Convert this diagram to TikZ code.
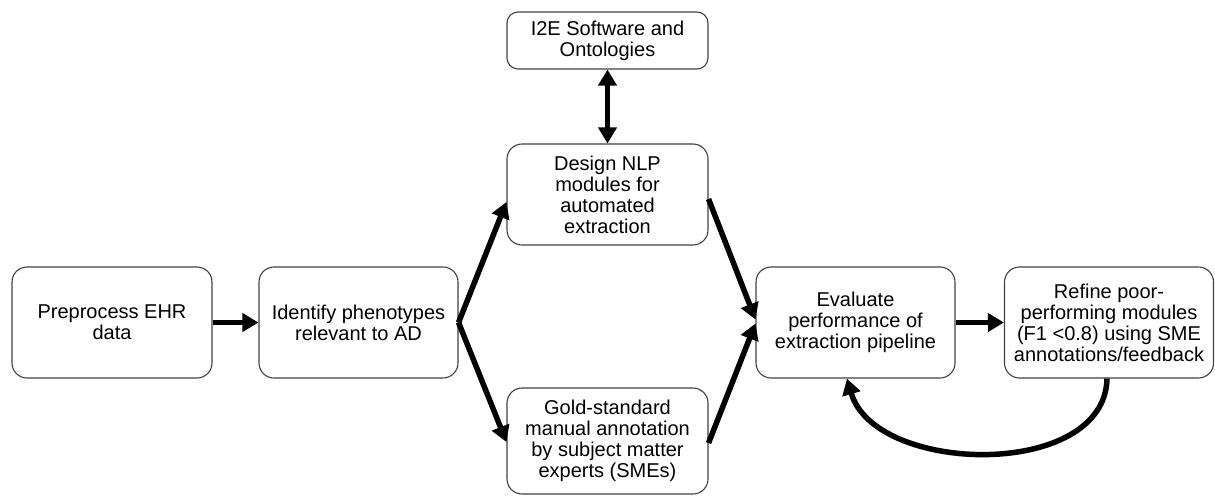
\documentclass[tikz,border=0pt]{standalone}
\usepackage{fontspec}
\setmainfont{Liberation Sans}
\usetikzlibrary{arrows.meta}
\begin{document}
\begin{tikzpicture}[x=1pt,y=-1pt,
  box/.style={draw=black!75, line width=1.1pt, rounded corners=15pt, align=center,
    font=\fontsize{20}{21}\selectfont, inner sep=0pt},
  flow/.style={line width=5.5pt, -{Triangle[length=16pt,width=18pt]}},
  flow2/.style={line width=5.5pt, {Triangle[length=16pt,width=18pt]}-{Triangle[length=16pt,width=18pt]}}]
\useasboundingbox (0,0) rectangle (1215,496);
\node[box, minimum width=200pt, minimum height=111pt] (pre) at (112,322.5) {Preprocess EHR\\data};
\node[box, minimum width=199pt, minimum height=111pt] (ide) at (358.5,322.5) {Identify phenotypes\\relevant to AD};
\node[box, rounded corners=11pt, minimum width=201pt, minimum height=57pt] (i2e) at (607.5,40.5) {I2E Software and\\Ontologies};
\node[box, minimum width=201pt, minimum height=101pt] (des) at (607.5,194.5) {Design NLP\\modules for\\automated\\extraction};
\node[box, minimum width=201pt, minimum height=106pt] (gold) at (607.5,441) {Gold-standard\\manual annotation\\by subject matter\\experts (SMEs)};
\node[box, minimum width=199pt, minimum height=111pt] (eva) at (855.5,322.5) {Evaluate\\performance of\\extraction pipeline};
\node[box, minimum width=209pt, minimum height=111pt] (ref) at (1109,322.5) {Refine poor-\\performing modules\\(F1 <0.8) using SME\\annotations/feedback};
\draw[flow] (pre) -- (ide);
\draw[flow] (ide.east) -- ([yshift=-7.5pt]des.west);
\draw[flow] (ide.east) -- ([yshift=-1pt]gold.west);
\draw[flow2] (i2e.south) -- (des.north);
\draw[flow] ([yshift=-4.5pt]des.east) -- ([yshift=3pt]eva.west);
\draw[flow] ([yshift=-2pt]gold.west -| gold.east) -- ([yshift=-1pt]eva.west);
\draw[flow] (eva) -- (ref);
\draw[flow] ([xshift=-2pt]ref.south) .. controls (1105,480) and (875,475) .. ([xshift=-8.5pt]eva.south);
\end{tikzpicture}
\end{document}
